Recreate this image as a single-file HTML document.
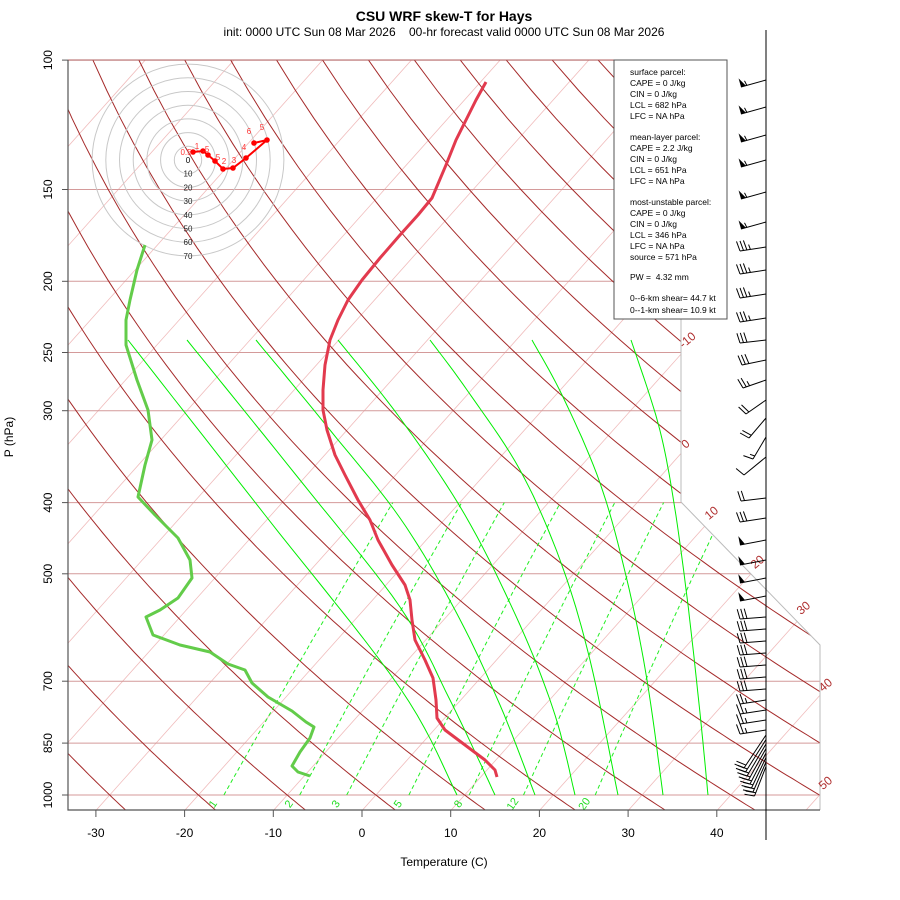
<!DOCTYPE html>
<html><head><meta charset="utf-8"><style>
html,body{margin:0;padding:0;background:#fff;}
svg{display:block;font-family:"Liberation Sans",sans-serif;}
</style></head><body>
<svg id="s" width="900" height="900" viewBox="0 0 900 900" xmlns="http://www.w3.org/2000/svg">
<defs><clipPath id="cp"><polygon points="68,60 681,60 681,502 820,645 820,810 68,810"/></clipPath></defs>
<rect width="900" height="900" fill="#fff"/>
<g id="grid" clip-path="url(#cp)"></g>
<g id="over"></g>
<text x="444" y="21" text-anchor="middle" font-size="14" font-weight="bold">CSU WRF skew-T for Hays</text>
<text x="444" y="36" text-anchor="middle" font-size="12" xml:space="preserve">init: 0000 UTC Sun 08 Mar 2026    00-hr forecast valid 0000 UTC Sun 08 Mar 2026</text>
<text x="444" y="866" text-anchor="middle" font-size="12">Temperature (C)</text>
<text transform="translate(13,437) rotate(-90)" text-anchor="middle" font-size="12">P (hPa)</text>
<rect x="614" y="60" width="113" height="259" fill="#fff" stroke="#555" stroke-width="1"/>
<g font-size="8.5" fill="#000">
<text x="630" y="75">surface parcel:</text>
<text x="630" y="86">CAPE = 0 J/kg</text>
<text x="630" y="97">CIN = 0 J/kg</text>
<text x="630" y="108">LCL = 682 hPa</text>
<text x="630" y="119">LFC = NA hPa</text>
<text x="630" y="140">mean-layer parcel:</text>
<text x="630" y="151">CAPE = 2.2 J/kg</text>
<text x="630" y="162">CIN = 0 J/kg</text>
<text x="630" y="173">LCL = 651 hPa</text>
<text x="630" y="184">LFC = NA hPa</text>
<text x="630" y="205">most-unstable parcel:</text>
<text x="630" y="216">CAPE = 0 J/kg</text>
<text x="630" y="227">CIN = 0 J/kg</text>
<text x="630" y="238">LCL = 346 hPa</text>
<text x="630" y="249">LFC = NA hPa</text>
<text x="630" y="260">source = 571 hPa</text>
<text x="630" y="280" xml:space="preserve">PW =  4.32 mm</text>
<text x="630" y="301">0--6-km shear= 44.7 kt</text>
<text x="630" y="313">0--1-km shear= 10.9 kt</text>
</g>
</svg>
<script>
(function(){
var NS="http://www.w3.org/2000/svg";
var grid=document.getElementById('grid'), over=document.getElementById('over');
function el(parent,tag,attrs,txt){var e=document.createElementNS(NS,tag);for(var k in attrs)e.setAttribute(k,attrs[k]);if(txt!==undefined)e.textContent=txt;parent.appendChild(e);return e;}
function ty(p){return 132.182-44.061*Math.log10(p);}
function Y(p){return 795-16.68*ty(p);}
function X(T,p){return 375.9+16.43*(0.54*T+0.90692*ty(p));}
function pl(parent,pts,attrs){var d=pts.map(function(q,i){return (i?'L':'M')+q[0].toFixed(1)+' '+q[1].toFixed(1);}).join(' ');attrs.d=d;attrs.fill='none';return el(parent,'path',attrs);}
function smooth(pts){var out=[];for(var i=0;i<pts.length-1;i++){var p0=pts[Math.max(i-1,0)],p1=pts[i],p2=pts[i+1],p3=pts[Math.min(i+2,pts.length-1)];for(var s=0;s<10;s++){var t=s/10,t2=t*t,t3=t2*t;out.push([0.5*((2*p1[0])+(-p0[0]+p2[0])*t+(2*p0[0]-5*p1[0]+4*p2[0]-p3[0])*t2+(-p0[0]+3*p1[0]-3*p2[0]+p3[0])*t3),0.5*((2*p1[1])+(-p0[1]+p2[1])*t+(2*p0[1]-5*p1[1]+4*p2[1]-p3[1])*t2+(-p0[1]+3*p1[1]-3*p2[1]+p3[1])*t3)]);}}out.push(pts[pts.length-1]);return out;}
for(var T=-160;T<=60;T+=10){pl(grid,[[X(T,1050),Y(1050)],[X(T,100),Y(100)]],{stroke:'#f0bcbc','stroke-width':0.8});}
[100,150,200,250,300,400,500,700,850,1000].forEach(function(p){pl(grid,[[68,Y(p)],[820,Y(p)]],{stroke:'#d49a9a','stroke-width':1});});
for(var th=-40;th<=220;th+=10){var pts=[];for(var p=1050;p>=100;p-=10){var t=(th+273.16)*Math.pow(p/1000,0.286)-273.16;pts.push([X(t,p),Y(p)]);}pl(grid,pts,{stroke:'#a52a2a','stroke-width':1});}
function tdw(w,p){var e=w*p/(622+w);var l=Math.log(e/6.112);return 243.5*l/(17.67-l);}
[1,2,3,5,8,12,20].forEach(function(w){var pts=[];for(var p=1000;p>=400;p-=10)pts.push([X(tdw(w,p),p),Y(p)]);pl(grid,pts,{stroke:'#22ee22','stroke-width':1,'stroke-dasharray':'4,3'});
 var x=X(tdw(w,1000),1000)-8, y=806;el(over,'text',{x:x,y:y,'font-size':11,fill:'#22dd22','text-anchor':'middle',transform:'rotate(-55 '+x+' '+y+')'},String(w));});
var moist=[
 [[128,340],[265,515],[400,688],[457,795]],
 [[187,340],[300,480],[400,607],[450,700],[495,795]],
 [[256,340],[330,430],[400,518],[455,610],[500,705],[535,795]],
 [[338,340],[400,418],[465,515],[520,625],[555,715],[575,795]],
 [[430,340],[467,390],[520,470],[560,560],[590,660],[618,795]],
 [[532,340],[563,397],[600,483],[627,580],[647,680],[663,795]],
 [[631,340],[658,423],[673,497],[687,597],[700,713],[708,795]]];
moist.forEach(function(m){pl(grid,smooth(m),{stroke:'#00ee00','stroke-width':1});});
pl(over,[[681,60],[681,502],[820,645],[820,810]],{stroke:'#bbb','stroke-width':1});
pl(over,[[68,60],[681,60]],{stroke:'#b06060','stroke-width':1});
pl(over,[[68,60],[68,810],[820,810]],{stroke:'#555','stroke-width':1.2});
[100,150,200,250,300,400,500,700,850,1000].forEach(function(p){var y=Y(p);pl(over,[[62,y],[68,y]],{stroke:'#555'});var x=52;el(over,'text',{x:x,y:y,'font-size':12,'text-anchor':'middle',transform:'rotate(-90 '+x+' '+y+')'},String(p));});
for(var t=-30;t<=40;t+=10){var x=362+8.871*t;pl(over,[[x,810],[x,817]],{stroke:'#555'});el(over,'text',{x:x,y:837,'font-size':12,'text-anchor':'middle'},String(t));}
[[-10,690,343],[0,688,447],[10,714,516],[20,760,565],[30,806,611],[40,828,688],[50,828,786]].forEach(function(a){el(over,'text',{x:a[1],y:a[2],'font-size':12,fill:'#b03030','text-anchor':'middle',transform:'rotate(-40 '+a[1]+' '+a[2]+')'},String(a[0]));});
var cx=188,cy=160;for(var i=1;i<=7;i++)el(over,'circle',{cx:cx,cy:cy,r:13.7*i,fill:'none',stroke:'#c8c8c8','stroke-width':1});
el(over,'text',{x:cx,y:cy+3,'font-size':8,'text-anchor':'middle'},'0');
for(var i=1;i<=7;i++)el(over,'text',{x:cx,y:cy+3+13.7*i,'font-size':8,'text-anchor':'middle',fill:'#222'},String(i*10));
var hp=[[193,152],[203,151],[208,155],[215,161],[223,169],[233,168],[246,158],[267,140],[254,143]];
pl(over,hp,{stroke:'#f00','stroke-width':2});
hp.forEach(function(q){el(over,'circle',{cx:q[0],cy:q[1],r:2.8,fill:'#f00'});});
[['0.5',186,155],['1',197,149],['.5',206,152],['5',218,160],['2',224,164],['3',234,163],['4',244,150],['5',262,130],['6',249,134]].forEach(function(a){el(over,'text',{x:a[1],y:a[2],'font-size':8,fill:'#f33','text-anchor':'middle'},a[0]);});
var tp=[[486,82],[476,100],[466,120],[456,140],[446,165],[432,198],[418,215],[400,235],[380,258],[362,280],[348,300],[338,320],[330,340],[325,365],[323,390],[323,410],[327,430],[335,455],[345,475],[358,500],[370,520],[378,540],[392,565],[405,585],[410,600],[412,620],[415,640],[425,660],[433,678],[436,700],[437,718],[445,730],[465,745],[485,760],[495,770],[497,777]];
pl(over,tp,{stroke:'#e23a4e','stroke-width':3,'stroke-linejoin':'round'});
var dp=[[145,245],[137,270],[130,300],[126,320],[126,345],[137,380],[148,410],[152,440],[145,465],[138,497],[155,515],[178,538],[190,560],[192,578],[178,598],[160,610],[146,617],[153,635],[180,645],[210,652],[228,664],[245,670],[252,683],[268,697],[292,711],[306,722],[314,727],[310,738],[300,752],[292,766],[298,772],[310,776]];
pl(over,dp,{stroke:'#63cc4a','stroke-width':3,'stroke-linejoin':'round'});
pl(over,[[766,30],[766,840]],{stroke:'#000','stroke-width':1});
function barb(y,dx,dy,np,nf,nh){var sx=766,sy=y,L=Math.sqrt(dx*dx+dy*dy),ux=dx/L,uy=dy/L;var tx=sx+dx,ty2=sy+dy;
 pl(over,[[sx,sy],[tx,ty2]],{stroke:'#000','stroke-width':1});
 var nx=uy,ny=-ux; if(ny>0){nx=-nx;ny=-ny;}
 var pos=0;
 for(var i=0;i<np;i++){var ax=tx-ux*pos,ay=ty2-uy*pos,bx=tx-ux*(pos+5),by=ty2-uy*(pos+5);el(over,'polygon',{points:ax+','+ay+' '+(ax+nx*9)+','+(ay+ny*9)+' '+bx+','+by,fill:'#000'});pos+=6;}
 for(var i=0;i<nf;i++){var ax=tx-ux*pos,ay=ty2-uy*pos;pl(over,[[ax,ay],[ax+nx*10+ux*2,ay+ny*10+uy*2]],{stroke:'#000','stroke-width':1});pos+=3.5;}
 for(var i=0;i<nh;i++){var ax=tx-ux*pos,ay=ty2-uy*pos;pl(over,[[ax,ay],[ax+nx*5+ux*1,ay+ny*5+uy*1]],{stroke:'#000','stroke-width':1});}
}
[80,107,135,160,192,222].forEach(function(y){barb(y,-25,7,1,0,1);});
[247,270,294,318].forEach(function(y){barb(y,-26,4,0,3,1);});
barb(340,-26,3,0,3,0);barb(360,-24,5,0,3,0);barb(380,-23,8,0,2,1);barb(400,-20,14,0,2,0);
barb(418,-17,20,0,2,0);barb(437,-13,22,0,1,1);barb(457,-22,18,0,1,0);barb(498,-25,3,0,2,0);
barb(518,-26,4,0,3,0);[540,560,578,596].forEach(function(y){barb(y,-26,5,1,0,0);});
for(var y=617;y<=690;y+=12)barb(y,-26,2,0,3,0);
for(var y=700;y<=730;y+=10)barb(y,-26,4,0,2,1);
for(var k=0;k<8;k++){var sy=735+k*4.5;barb(sy,-22+k*1.5,(768+k*4)-sy,0,2,0);}
})();
</script>
</body></html>
